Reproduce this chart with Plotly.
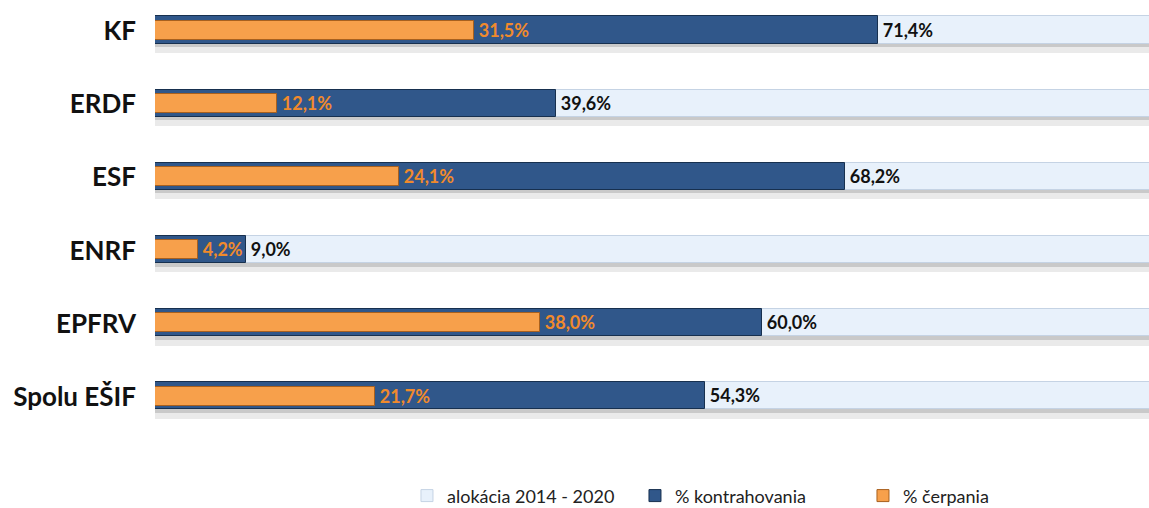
import plotly.graph_objects as go

categories = ["KF", "ERDF", "ESF", "ENRF", "EPFRV", "Spolu EŠIF"]
alokacia = [100, 100, 100, 100, 100, 100]
kontrahovanie = [71.4, 39.6, 68.2, 9.0, 60.0, 54.3]
cerpanie = [31.5, 12.1, 24.1, 4.2, 38.0, 21.7]

def fmt(v):
    return "\u2009" + f"{v:.1f}%".replace(".", ",")

fig = go.Figure()

# soft shadow under the allocation bar
fig.add_trace(go.Bar(
    y=categories, x=alokacia, orientation="h",
    marker=dict(color="rgba(170,170,170,0.25)", line=dict(width=0)),
    width=0.14, offset=0.16, showlegend=False, hoverinfo="skip",
))
fig.add_trace(go.Bar(
    y=categories, x=alokacia, orientation="h",
    marker=dict(color="rgba(140,140,140,0.35)", line=dict(width=0)),
    width=0.06, offset=0.16, showlegend=False, hoverinfo="skip",
))
fig.add_trace(go.Bar(
    y=categories, x=alokacia, orientation="h", name="alokácia 2014 - 2020",
    marker=dict(color="#e8f1fb", line=dict(color="#c5d3e4", width=1)),
    width=0.37, offset=-0.2,
))
fig.add_trace(go.Bar(
    y=categories, x=kontrahovanie, orientation="h", name="% kontrahovania",
    marker=dict(color="#30578a", line=dict(color="#17304f", width=1)),
    width=0.37, offset=-0.2,
    text=[fmt(v) for v in kontrahovanie], textposition="outside", constraintext="none",
    textfont=dict(color="#111111", size=18, family="Lato", weight="bold"),
    cliponaxis=False,
))
fig.add_trace(go.Bar(
    y=categories, x=cerpanie, orientation="h", name="% čerpania",
    marker=dict(color="#f7a04b", line=dict(color="#a8601e", width=1)),
    width=0.26, offset=-0.14,
    text=[fmt(v) for v in cerpanie], textposition="outside", constraintext="none",
    textfont=dict(color="#f08a2c", size=18, family="Lato", weight="bold"),
    cliponaxis=False,
))

fig.update_layout(
    width=1149, height=508,
    barmode="overlay",
    plot_bgcolor="white", paper_bgcolor="white",
    margin=dict(l=155, r=0, t=0, b=68, autoexpand=False),
    xaxis=dict(range=[0, 98.2], showgrid=False, zeroline=False, automargin=False,
               showticklabels=False, showline=False, fixedrange=True),
    yaxis=dict(range=[5.59, -0.425], showgrid=False, zeroline=False, automargin=False,
               tickfont=dict(family="Lato", size=26, color="#111111", weight="bold"),
               ticklabelstandoff=18, categoryorder="array", categoryarray=categories,
               fixedrange=True),
    legend=dict(orientation="h", x=0.2535, xanchor="left", y=-0.127, yanchor="middle",
                font=dict(family="Lato", size=18, color="#222222"),
                traceorder="normal", itemwidth=30,
                entrywidth=183, entrywidthmode="pixels"),
    bargap=0,
)

fig.write_html("out.html", config={"displayModeBar": False},
               post_script="document.body.style.margin='0';document.body.style.overflow='hidden';")
